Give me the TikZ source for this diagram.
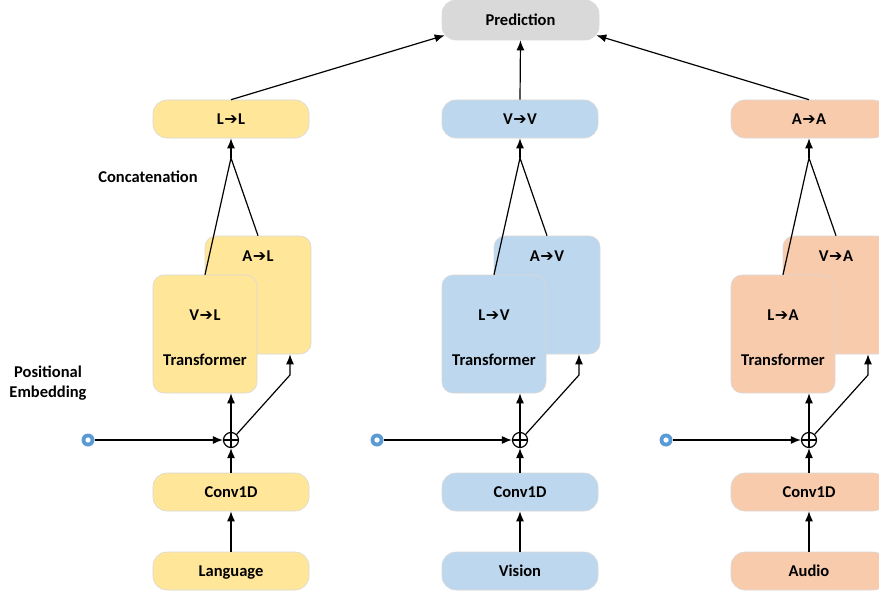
\documentclass[tikz,border=0pt]{standalone}
\usepackage{fontspec}
\setmainfont{Carlito}
\newfontfamily\arrfont{DejaVu Sans}
\usetikzlibrary{arrows.meta,calc}
\definecolor{cyel}{HTML}{FFE699}
\definecolor{cblu}{HTML}{BDD7EE}
\definecolor{cora}{HTML}{F8CBAD}
\definecolor{cgry}{HTML}{D9D9D9}
\definecolor{cdot}{HTML}{5B9BD5}
\newcommand\myarr{{\arrfont\fontsize{16}{16}\selectfont\kern0.5pt ➔\kern0.5pt}}
\newcommand\mmcol[7]{%
\begin{scope}[xshift=#1]
\node[box, fill=#2] (top#3) at (231,119) {#4};
\node[tbox, fill=#2] (back#3) at (258,295) {};
\node[lbl] (backl#3) at (258,256) {#5};
\node[tbox, fill=#2, minimum width=104pt] (front#3) at (205,334) {};
\node[lbl] (frontl#3) at (205,315) {#6};
\node[lbl] (trans#3) at (205,360) {Transformer};
\node[oplus] (plus#3) at (231,440) {};
\node[pdot] (dot#3) at (88,440) {};
\node[box, fill=#2] (conv#3) at (231,492) {Conv1D};
\node[box, fill=#2] (in#3) at (231,571) {#7};
\coordinate (apex#3) at (231,158);
\coordinate (bend#3) at (290,375);
\draw[arr] (apex#3) -- (top#3.south);
\draw[ln] (front#3.north) -- (apex#3) -- (back#3.north);
\draw[arr] (plus#3.north) -- (plus#3.north |- front#3.south);
\draw[arr] (plus#3.45) -- (bend#3) -- (back#3.south -| bend#3);
\draw[arr] (conv#3.north) -- (plus#3.south);
\draw[arr] (in#3.north) -- (conv#3.south);
\draw[arr] (dot#3.east) -- (plus#3.west);
\end{scope}}
\begin{document}
\begin{tikzpicture}[x=1pt,y=-1pt,
  lbl/.style={font=\bfseries\fontsize{16.5}{19}\selectfont, inner sep=0pt},
  box/.style={rounded corners=14pt, draw=black!15, line width=0.6pt,
    font=\bfseries\fontsize{16.5}{19}\selectfont, minimum width=156pt,
    minimum height=38pt, inner sep=0pt, text height=12.5pt, text depth=1.5pt},
  tbox/.style={rounded corners=11pt, draw=black!15, line width=0.6pt,
    minimum width=106pt, minimum height=118pt, inner sep=0pt},
  ln/.style={line width=1.2pt},
  arr/.style={line width=1.2pt, -{Latex[length=10pt,width=8pt]}},
  oplus/.style={circle, draw, line width=1.2pt, minimum size=15pt, inner sep=0pt,
    path picture={\draw[line width=1.1pt] (path picture bounding box.north) -- (path picture bounding box.south)
      (path picture bounding box.west) -- (path picture bounding box.east);}},
  pdot/.style={circle, fill=cdot, minimum size=13pt, inner sep=0pt,
    path picture={\fill[white] (path picture bounding box.center) circle[radius=2.6pt];}}
]
\clip (0,0) rectangle (879,594);
\fill[white] (0,0) rectangle (879,594);
\node[box, fill=cgry, minimum width=157pt, minimum height=40pt] (pred) at (520.5,20) {Prediction};
\mmcol{0pt}{cyel}{l}{L\myarr L}{A\myarr L}{V\myarr L}{Language}
\mmcol{289pt}{cblu}{v}{V\myarr V}{A\myarr V}{L\myarr V}{Vision}
\mmcol{578pt}{cora}{a}{A\myarr A}{V\myarr A}{L\myarr A}{Audio}
\draw[arr] (topl.north) -- ($(pred.south west)+(3,-5)$);
\draw[arr] (topv.north) -- (pred.south);
\draw[arr] (topa.north) -- ($(pred.south east)+(-3,-5)$);
\node[lbl] (concat) at (148,177) {Concatenation};
\node[lbl, align=center, font=\bfseries\fontsize{16.5}{20}\selectfont] (posemb) at (48,383) {Positional\\Embedding};
\end{tikzpicture}
\end{document}
